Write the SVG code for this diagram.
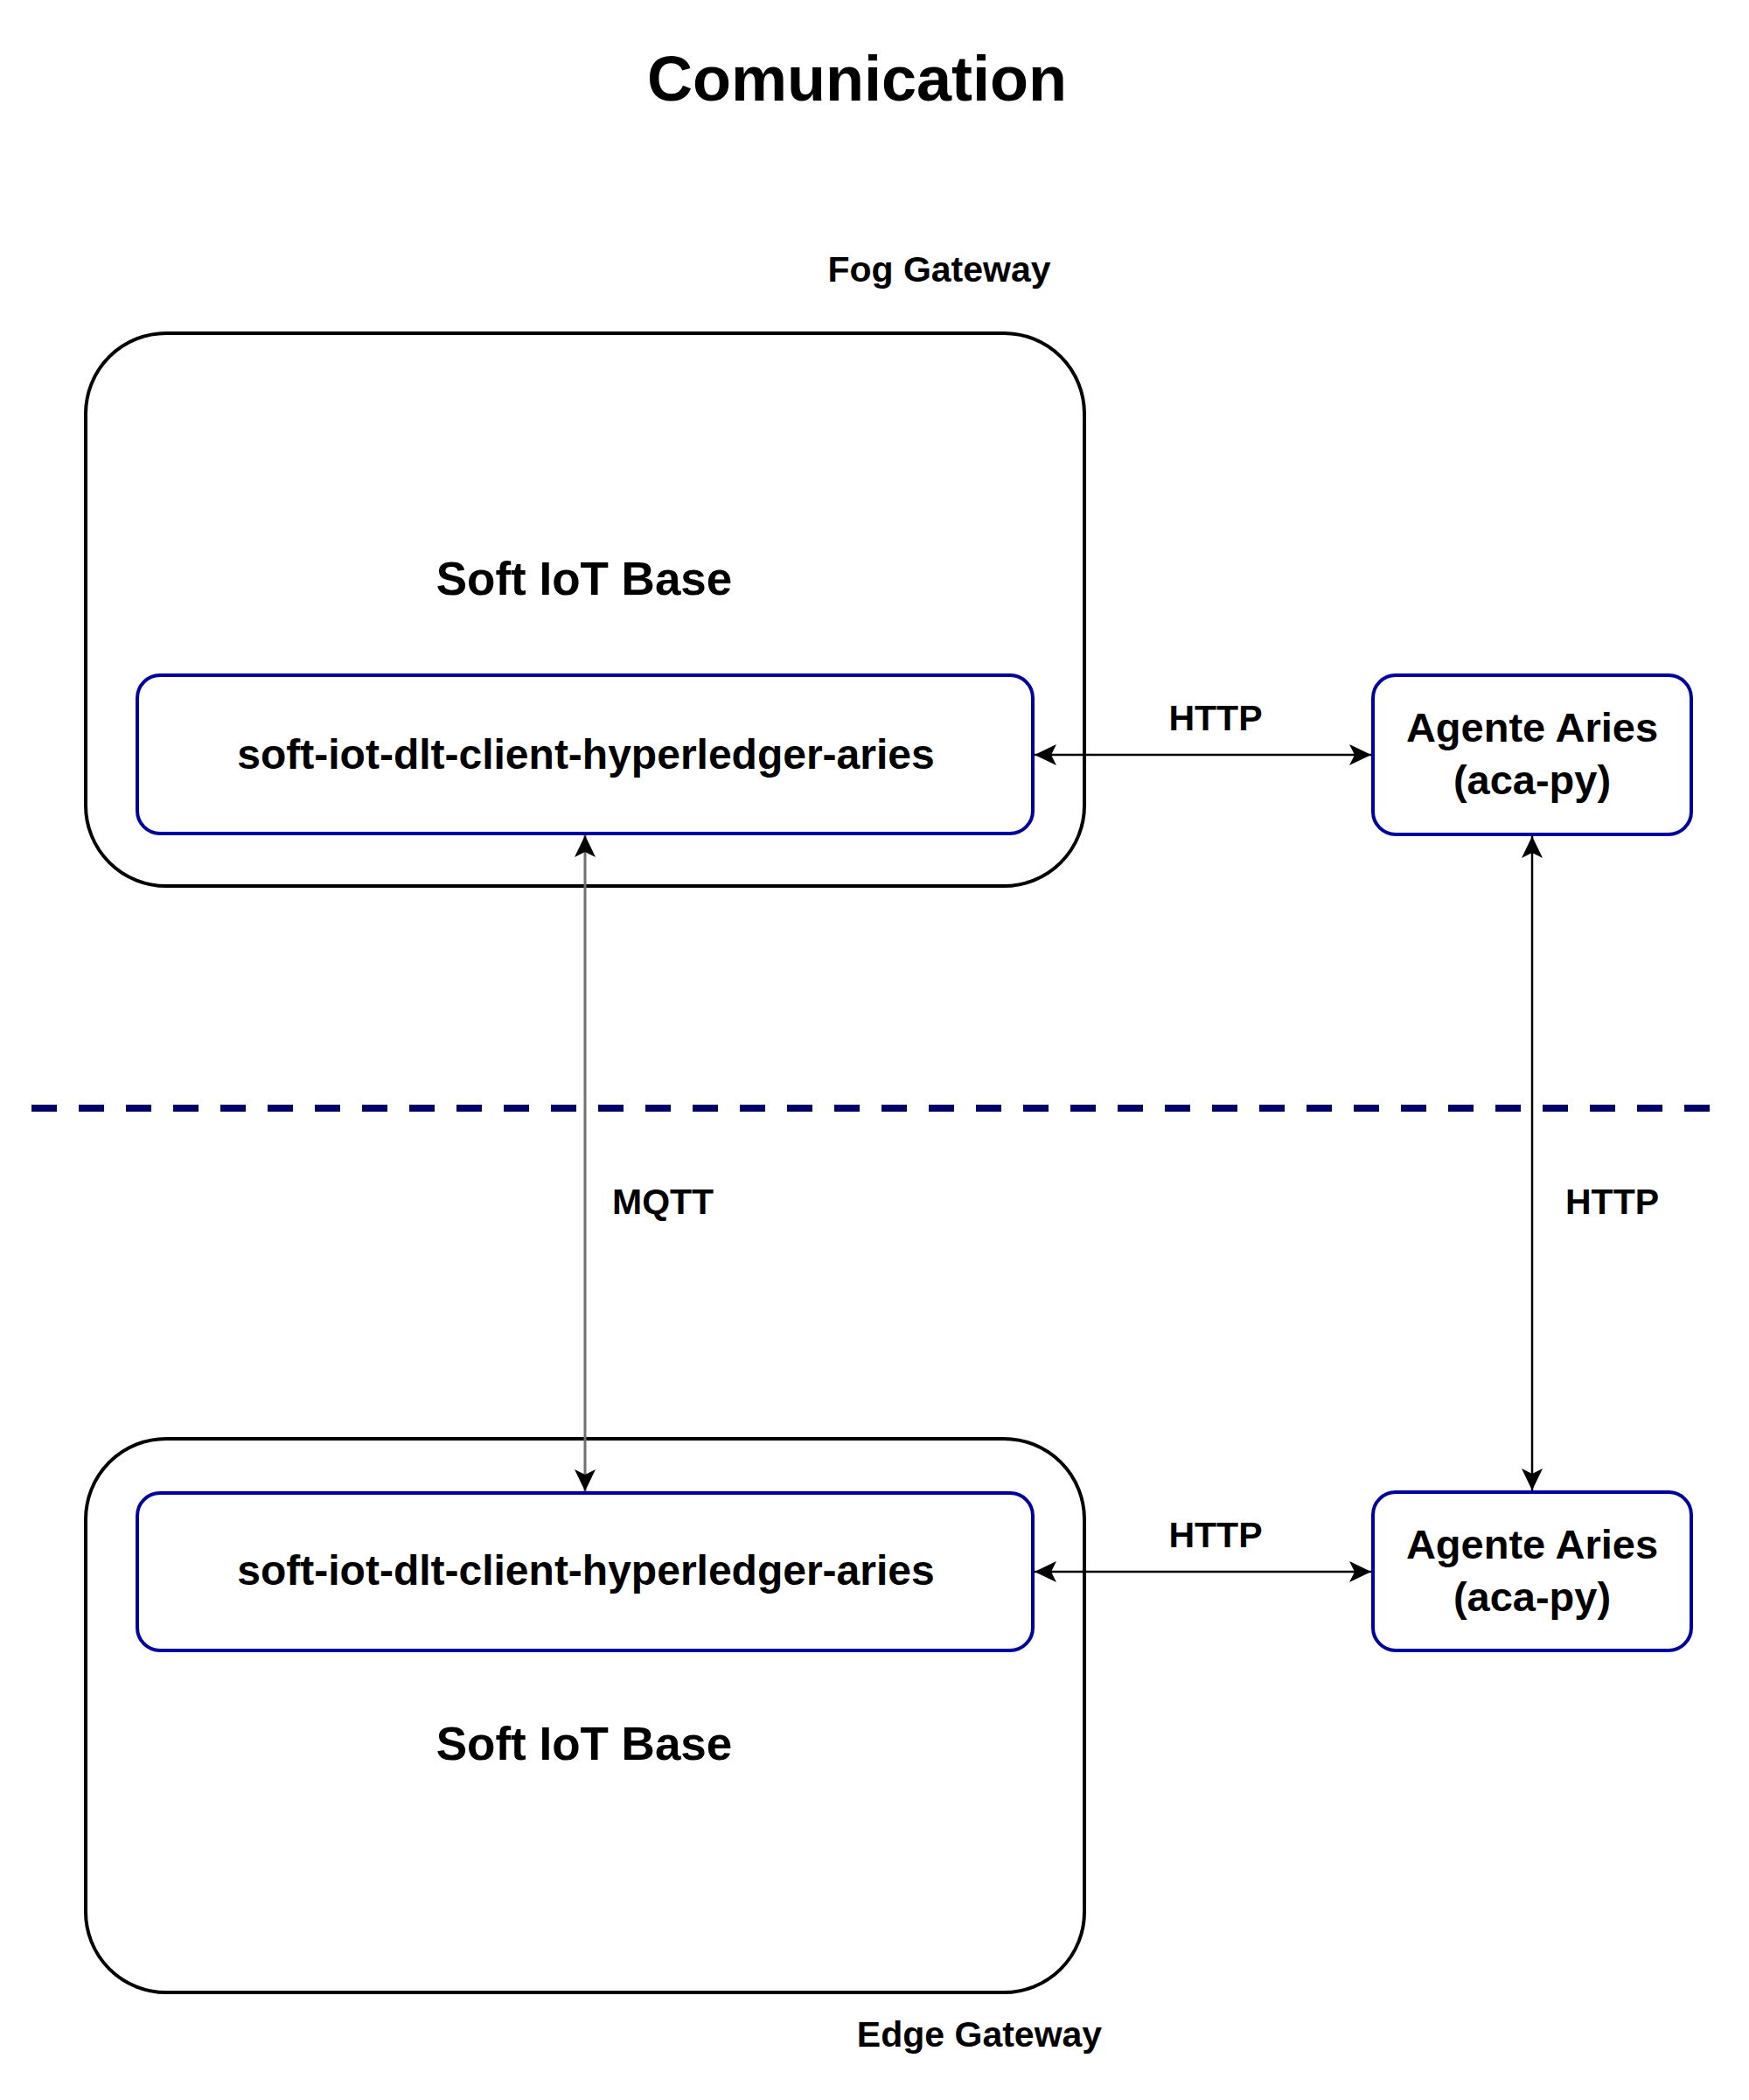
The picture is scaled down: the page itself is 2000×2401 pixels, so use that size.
<svg xmlns="http://www.w3.org/2000/svg" width="2000" height="2401" viewBox="0 0 2000 2401">
  <style>
    text { font-family: "Liberation Sans", Arial, Helvetica, sans-serif; font-weight: bold; fill: #000; }
    .outer { fill: #fff; stroke: #000; stroke-width: 4; }
    .inner { fill: #fff; stroke: #0000A0; stroke-width: 4; }
    .conn { fill: none; stroke: #000; stroke-width: 2.5; }
    .mqtt { fill: none; stroke: #707070; stroke-width: 3; }
    .title { font-size: 72px; }
    .base { font-size: 53px; }
    .comp { font-size: 48px; }
    .agent { font-size: 47px; }
    .lbl { font-size: 41px; }
  </style>
  <defs>
    <marker id="arr" viewBox="0 0 25 24" refX="25" refY="12" markerWidth="25" markerHeight="24" markerUnits="userSpaceOnUse" orient="auto-start-reverse">
      <path d="M0,0 L25,12 L0,24 L6,12 Z" fill="#000"/>
    </marker>
  </defs>
  <rect width="2000" height="2401" fill="#fff"/>

  <g id="title">
    <text class="title" x="980" y="115" text-anchor="middle">Comunication</text>
  </g>

  <g id="fog-gateway-label">
    <text class="lbl" x="1074" y="322" text-anchor="middle">Fog Gateway</text>
  </g>

  <g id="fog-soft-iot-base">
    <rect class="outer" x="98" y="381" width="1142" height="632" rx="92" ry="92"/>
    <text class="base" x="668" y="680" text-anchor="middle">Soft IoT Base</text>
  </g>

  <g id="fog-client">
    <rect class="inner" x="157" y="772" width="1024" height="181" rx="26" ry="26"/>
    <text class="comp" x="670" y="879" text-anchor="middle">soft-iot-dlt-client-hyperledger-aries</text>
  </g>

  <g id="fog-agent">
    <rect class="inner" x="1570" y="772" width="364" height="182" rx="26" ry="26"/>
    <text class="agent" x="1752" y="848" text-anchor="middle">Agente Aries</text>
    <text class="agent" x="1752" y="908" text-anchor="middle">(aca-py)</text>
  </g>

  <g id="separator">
    <line x1="36" y1="1267" x2="1966" y2="1267" stroke="#000066" stroke-width="8" stroke-dasharray="29 25"/>
  </g>

  <g id="edge-soft-iot-base">
    <rect class="outer" x="98" y="1645" width="1142" height="633" rx="92" ry="92"/>
    <text class="base" x="668" y="2012" text-anchor="middle">Soft IoT Base</text>
  </g>

  <g id="edge-client">
    <rect class="inner" x="157" y="1707" width="1024" height="180" rx="26" ry="26"/>
    <text class="comp" x="670" y="1812" text-anchor="middle">soft-iot-dlt-client-hyperledger-aries</text>
  </g>

  <g id="edge-agent">
    <rect class="inner" x="1570" y="1706" width="364" height="181" rx="26" ry="26"/>
    <text class="agent" x="1752" y="1782" text-anchor="middle">Agente Aries</text>
    <text class="agent" x="1752" y="1842" text-anchor="middle">(aca-py)</text>
  </g>

  <g id="edge-gateway-label">
    <text class="lbl" x="1120" y="2340" text-anchor="middle">Edge Gateway</text>
  </g>

  <g id="connectors">
    <line class="conn" x1="1183" y1="863" x2="1568" y2="863" marker-start="url(#arr)" marker-end="url(#arr)"/>
    <text class="lbl" x="1390" y="835" text-anchor="middle">HTTP</text>

    <line class="conn" x1="1183" y1="1797" x2="1568" y2="1797" marker-start="url(#arr)" marker-end="url(#arr)"/>
    <text class="lbl" x="1390" y="1769" text-anchor="middle">HTTP</text>

    <line class="mqtt" x1="669" y1="955" x2="669" y2="1705" marker-start="url(#arr)" marker-end="url(#arr)"/>
    <text class="lbl" x="700" y="1388">MQTT</text>

    <line class="conn" x1="1752" y1="956" x2="1752" y2="1704" marker-start="url(#arr)" marker-end="url(#arr)"/>
    <text class="lbl" x="1790" y="1388">HTTP</text>
  </g>
</svg>
